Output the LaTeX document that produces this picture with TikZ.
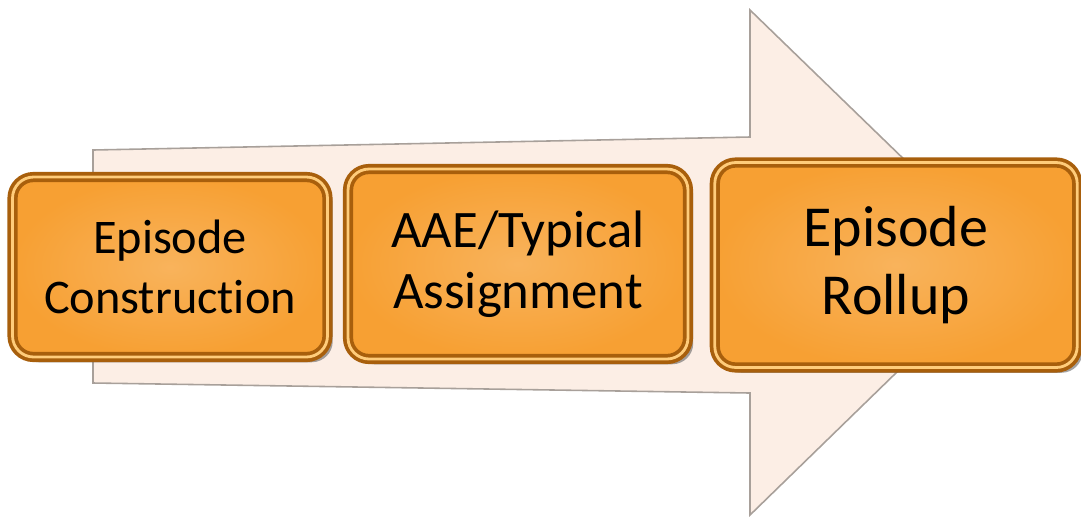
\documentclass[tikz,border=0pt]{standalone}
\usepackage{fontspec}
\setmainfont{Carlito}[Ligatures=NoCommon]
\usetikzlibrary{shadows}
\definecolor{stagefill}{HTML}{F7A033}
\definecolor{stageedge}{HTML}{A85F0C}
\definecolor{stagelight}{HTML}{FFCC7A}
\definecolor{arrowfill}{HTML}{FCEEE5}
\definecolor{arrowedge}{HTML}{A8A09A}
\tikzset{
  stage/.style={rectangle, rounded corners=0.42cm, align=center,
    inner color=stagefill!80!white, outer color=stagefill,
    draw=stageedge, double=stagelight, double distance=1.6pt, line width=2.1pt,
    drop shadow={shadow xshift=3pt, shadow yshift=-3pt, fill=black!60, opacity=0.6},
    text=black},
  flow/.style={fill=arrowfill, draw=arrowedge, line width=0.9pt, line join=miter}
}
\begin{document}
\begin{tikzpicture}[x=0.02cm,y=-0.02cm]
\useasboundingbox (0,0) rectangle (1081,522);

\draw[flow] (93,150) -- (750,137) -- (750,10) -- (1010,262) -- (750,515) -- (750,393) -- (93,383) -- cycle;

\node[stage, minimum width=6.3cm, minimum height=3.6cm, font=\fontsize{27.5}{34}\selectfont]
  (constr) at (170,267) {Episode\\Construction};
\node[stage, minimum width=6.8cm, minimum height=3.8cm, font=\fontsize{30}{35}\selectfont]
  (assign) at (518,264) {AAE/Typical\\Assignment};
\node[stage, minimum width=7.25cm, minimum height=4.1cm, font=\fontsize{33}{39}\selectfont]
  (rollup) at (896,265) {Episode\\Rollup};
\end{tikzpicture}
\end{document}
